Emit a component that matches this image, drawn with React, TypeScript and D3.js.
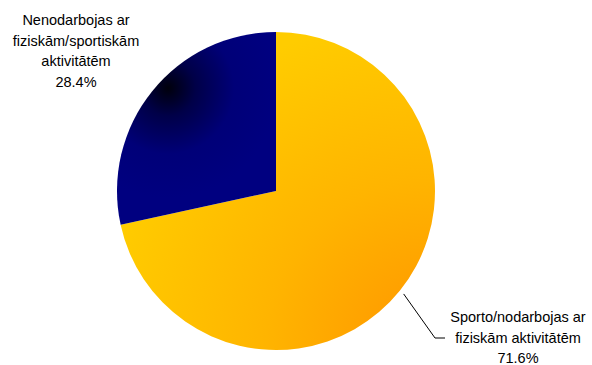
import React from "react";
import * as d3 from "d3";

const categories = [
  "Sporto/nodarbojas ar fiziskām aktivitātēm",
  "Nenodarbojas ar fiziskām/sportiskām aktivitātēm",
];
const values = [71.6, 28.4];
const labelLines = [
  ["Sporto/nodarbojas ar", "fiziskām aktivitātēm", "71.6%"],
  ["Nenodarbojas ar", "fiziskām/sportiskām", "aktivitātēm", "28.4%"],
];

const W = 592;
const H = 365;
const cx = 276;
const cy = 191;
const R = 159;

export default function App() {
  const pie = d3.pie<number>().sort(null).value((d) => d)(values);
  const arc = d3.arc<d3.PieArcDatum<number>>().innerRadius(0).outerRadius(R);

  const a0 = (pie[0].startAngle + pie[0].endAngle) / 2;
  const p0 = [cx + (R + 5) * Math.sin(a0), cy - (R + 5) * Math.cos(a0)];
  const p1 = [435, 338];
  const p2 = [445, 338];

  const fontSize = 14.5;
  const lh = 20.6;

  return (
    <svg
      width={W}
      height={H}
      style={{ position: "absolute", left: 0, top: 0, display: "block" }}
      fontFamily="'Liberation Sans', Arial, sans-serif"
    >
      <defs>
        {/* coordinates relative to the pie centre (paths are drawn in a translated group) */}
        <radialGradient id="gYellow" gradientUnits="userSpaceOnUse" cx={436 - cx} cy={350 - cy} r={340}>
          <stop offset="0" stopColor="#FF9400" />
          <stop offset="0.5" stopColor="#FFB400" />
          <stop offset="1" stopColor="#FFCC00" />
        </radialGradient>
        <radialGradient id="gNavy" gradientUnits="userSpaceOnUse" cx={168 - cx} cy={88 - cy} r={110}>
          <stop offset="0" stopColor="#00000C" />
          <stop offset="0.25" stopColor="#000048" />
          <stop offset="0.6" stopColor="#000078" />
          <stop offset="1" stopColor="#000080" />
        </radialGradient>
      </defs>
      <rect x={0} y={0} width={W} height={H} fill="#ffffff" />
      <g transform={`translate(${cx},${cy})`}>
        {pie.map((d, i) => (
          <path
            key={categories[i]}
            d={arc(d) || ""}
            fill={i === 0 ? "url(#gYellow)" : "url(#gNavy)"}
          />
        ))}
      </g>
      <polyline
        points={[p0, p1, p2].map((p) => p.join(",")).join(" ")}
        fill="none"
        stroke="#000"
        strokeWidth={1}
      />
      <text textAnchor="middle" fontSize={fontSize} fill="#000">
        {labelLines[1].map((t, i) => (
          <tspan key={i} x={76} y={25 + i * lh}>
            {t}
          </tspan>
        ))}
      </text>
      <text textAnchor="middle" fontSize={fontSize} fill="#000">
        {labelLines[0].map((t, i) => (
          <tspan key={i} x={518} y={322 + i * lh}>
            {t}
          </tspan>
        ))}
      </text>
    </svg>
  );
}
